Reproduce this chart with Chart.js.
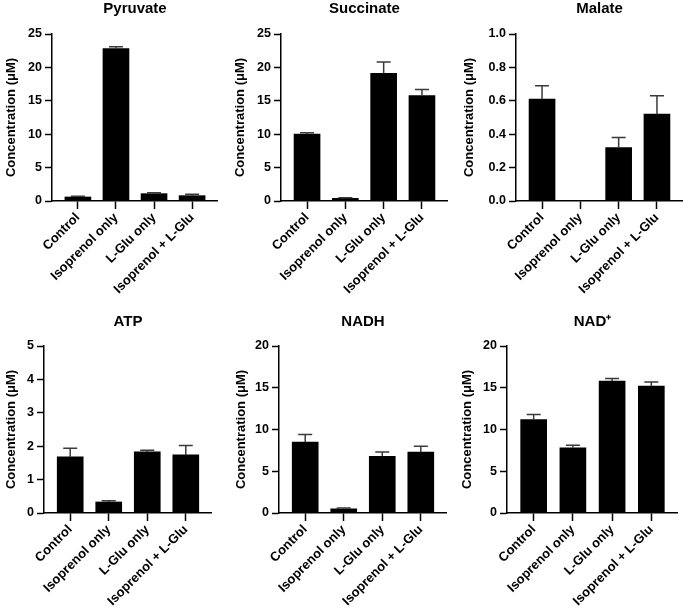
<!DOCTYPE html>
<html>
<head>
<meta charset="utf-8">
<script src="https://cdn.jsdelivr.net/npm/chart.js@4"></script>
<style>
  body { margin: 0; background: #fff; }
  #wrap { position: relative; width: 685px; height: 607px; overflow: hidden; }
  canvas { position: absolute; }
</style>
</head>
<body>
<div id="wrap"></div>
<script>
// categories (same for all six panels)
const categories = ["Control", "Isoprenol only", "L-Glu only", "Isoprenol + L-Glu"];

// means and upper error (SD)
const pyruvateMean  = [0.6, 22.8, 1.1, 0.8];
const pyruvateErr   = [0.1, 0.3, 0.15, 0.2];
const succinateMean = [10.0, 0.4, 19.1, 15.8];
const succinateErr  = [0.2, 0.1, 1.7, 0.9];
const malateMean    = [0.61, 0, 0.32, 0.52];
const malateErr     = [0.08, null, 0.06, 0.11];
const atpMean       = [1.68, 0.33, 1.83, 1.74];
const atpErr        = [0.26, 0.04, 0.05, 0.28];
const nadhMean      = [8.5, 0.5, 6.8, 7.3];
const nadhErr       = [0.9, 0.1, 0.5, 0.7];
const nadMean       = [11.2, 7.8, 15.8, 15.2];
const nadErr        = [0.6, 0.3, 0.3, 0.5];

const FONT = "'Liberation Sans', Arial, sans-serif";

// panel list: title, data, y range, placement
const panels = [
  {title: "Pyruvate",  mean: pyruvateMean,  err: pyruvateErr,  max: 25, step: 5,   left: 0,   top: 0,   axisW: 52, w: 218, h: 296},
  {title: "Succinate", mean: succinateMean, err: succinateErr, max: 25, step: 5,   left: 229, top: 0,   axisW: 52, w: 219, h: 296},
  {title: "Malate",    mean: malateMean,    err: malateErr,    max: 1,  step: 0.2, left: 458, top: 0,   axisW: 58, w: 225, h: 296, dec: 1},
  {title: "ATP",       mean: atpMean,       err: atpErr,       max: 5,  step: 1,   left: 0,   top: 313, axisW: 44, w: 212, h: 295},
  {title: "NADH",      mean: nadhMean,      err: nadhErr,      max: 20, step: 5,   left: 230, top: 313, axisW: 49, w: 217, h: 295},
  {title: "NAD\u207A", mean: nadMean,       err: nadErr,       max: 20, step: 5,   left: 456, top: 313, axisW: 51, w: 222, h: 295}
];

// error bars: upward whisker with a cap, drawn from the bar's own scale
const errorBars = {
  id: "errorBars",
  afterDatasetsDraw(chart) {
    const errs = chart.config.options.plugins.errorBars.err;
    const yScale = chart.scales.y;
    const ctx = chart.ctx;
    const ds = chart.data.datasets[0];
    chart.getDatasetMeta(0).data.forEach((bar, i) => {
      if (!errs[i]) return;
      const v = ds.data[i].y;
      const yTop = yScale.getPixelForValue(v + errs[i]);
      ctx.save();
      ctx.strokeStyle = "#3a3a3a";
      ctx.lineWidth = 1.5;
      ctx.beginPath();
      ctx.moveTo(bar.x, bar.y);
      ctx.lineTo(bar.x, yTop);
      ctx.moveTo(bar.x - 7, yTop);
      ctx.lineTo(bar.x + 7, yTop);
      ctx.stroke();
      ctx.restore();
    });
  }
};

const wrap = document.getElementById("wrap");

panels.forEach(p => {
  const cv = document.createElement("canvas");
  cv.width = p.w;
  cv.height = p.h;
  cv.style.left = p.left + "px";
  cv.style.top = p.top + "px";
  wrap.appendChild(cv);

  new Chart(cv, {
    type: "bar",
    data: {
      datasets: [{
        data: p.mean.map((v, i) => ({x: i, y: v})),
        backgroundColor: "#000",
        barThickness: 26
      }]
    },
    plugins: [errorBars],
    options: {
      responsive: false,
      animation: false,
      layout: {padding: {top: 0, right: 0, bottom: 0, left: 0}},
      plugins: {
        legend: {display: false},
        tooltip: {enabled: false},
        title: {
          display: true,
          text: p.title,
          fullSize: false,
          color: "#000",
          font: {family: FONT, size: 15, weight: "bold"},
          padding: {top: 0, bottom: p.top ? 15 : 16}
        },
        errorBars: {err: p.err}
      },
      scales: {
        x: {
          type: "linear",
          offset: false,
          min: -0.68,
          max: 3.68,
          afterBuildTicks: s => { s.ticks = s.ticks.filter(t => Number.isInteger(t.value) && t.value >= 0 && t.value <= 3); },
          afterFit: s => { s.height = 95; },
          border: {color: "#000", width: 1.5},
          grid: {offset: false, drawOnChartArea: false, drawTicks: true, tickLength: 8, tickColor: "#000", tickWidth: 1.5},
          ticks: {
            stepSize: 1,
            includeBounds: false,
            autoSkip: false,
            minRotation: 45,
            maxRotation: 45,
            padding: 1,
            color: "#000",
            font: {family: FONT, size: 13, weight: "bold"},
            callback: v => categories[v]
          }
        },
        y: {
          min: 0,
          max: p.max,
          afterFit: s => { s.width = p.axisW; },
          border: {color: "#000", width: 1.5},
          grid: {drawOnChartArea: false, drawTicks: true, tickLength: 7, tickColor: "#000", tickWidth: 1.5},
          ticks: {
            stepSize: p.step,
            padding: 3,
            color: "#000",
            font: {family: FONT, size: 12.5, weight: "bold"},
            callback: v => p.dec ? v.toFixed(p.dec) : v
          },
          title: {
            display: true,
            text: "Concentration (\u03BCM)",
            color: "#000",
            font: {family: FONT, size: 13, weight: "bold"},
            padding: {top: 4, bottom: 0}
          }
        }
      }
    }
  });
});
</script>
</body>
</html>
